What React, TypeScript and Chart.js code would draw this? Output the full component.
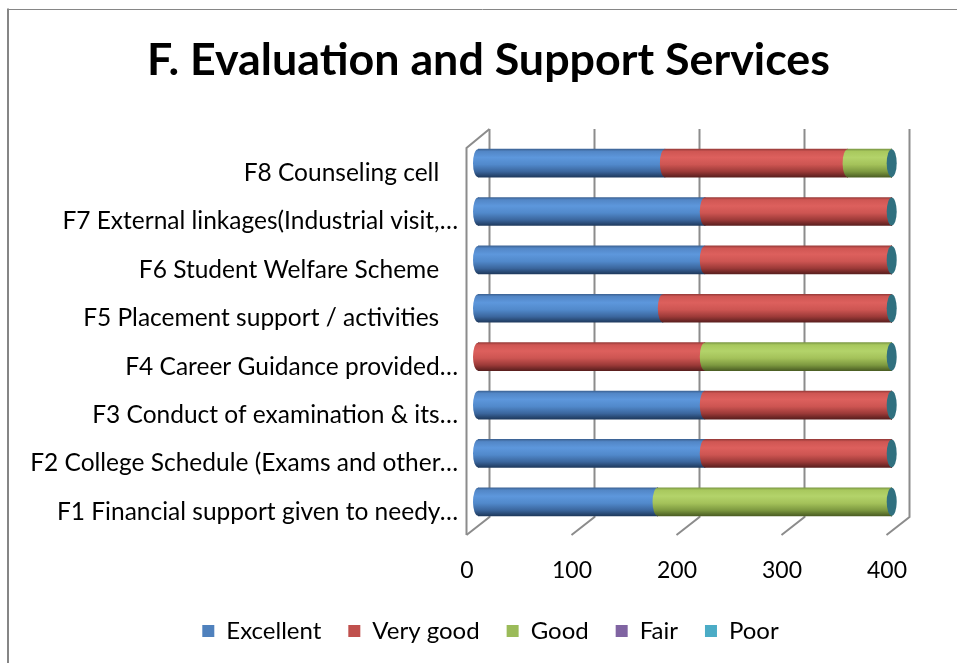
import React, { useEffect, useRef } from "react";
import { Chart, registerables } from "chart.js";

Chart.register(...registerables);

// ---- data ----
const categories = [
  "F1 Financial support given to needy…",
  "F2 College Schedule (Exams and other…",
  "F3 Conduct of examination & its…",
  "F4 Career Guidance provided…",
  "F5 Placement support / activities   ",
  "F6 Student Welfare Scheme   ",
  "F7 External linkages(Industrial visit,…",
  "F8 Counseling cell   ",
];
const seriesNames = ["Excellent", "Very good", "Good", "Fair", "Poor"];
const excellent = [171, 216, 216, 0, 176, 216, 216, 178];
const veryGood = [0, 178, 178, 216, 218, 178, 178, 174];
const good = [223, 0, 0, 178, 0, 0, 0, 42];
const fair = [0, 0, 0, 0, 0, 0, 0, 0];
const poor = [0, 0, 0, 0, 0, 0, 0, 0];
const xTicks = [0, 100, 200, 300, 400];

const solidColors = ["#4F81BD", "#C0504D", "#9BBB59", "#8064A2", "#4BACC6"];
const gradStops = [
  ["#3d6496", "#5286c6", "#5d97dc", "#5189cb", "#3b669d", "#1f3a5e"],
  ["#9a3c3a", "#cf5653", "#dd605d", "#cd5552", "#9c3a38", "#5a1f1e"],
  ["#7d9a45", "#a8c85d", "#b3d36a", "#a4c25a", "#7d9940", "#4c5f24"],
  ["#5e4a7a", "#7c62a0", "#8a6fb0", "#7a5f9d", "#5a4676", "#352847"],
  ["#3b8499", "#4aa9c3", "#56b8d2", "#48a5bf", "#357d91", "#1f4b57"],
];
const stopPos = [0, 0.08, 0.3, 0.55, 0.8, 1];
const capColor = "#30707f";
const FONT = "Lato";

function makeGradient(ctx: CanvasRenderingContext2D, yc: number, h: number, di: number) {
  const g = ctx.createLinearGradient(0, yc - h / 2, 0, yc + h / 2);
  gradStops[di].forEach((c, k) => g.addColorStop(stopPos[k], c));
  return g;
}

const DX = 11.5;
const DY = 9;

const framePlugin = {
  id: "frame3d",
  afterLayout(chart: any) {
    // centre title and legend over the whole picture like the original
    const tb = chart.titleBlock;
    if (tb) {
      tb.left += 29.5;
      tb.right += 29.5;
    }
    const lg = chart.legend;
    if (lg) {
      lg.left += 31.5;
      lg.right += 31.5;
    }
  },
  beforeDraw(chart: any) {
    const ctx = chart.ctx;
    ctx.save();
    ctx.fillStyle = "#ffffff";
    ctx.fillRect(0, 0, chart.width, chart.height);
    ctx.strokeStyle = "#868686";
    ctx.lineWidth = 2;
    ctx.beginPath();
    ctx.moveTo(8, chart.height);
    ctx.lineTo(8, 8.5);
    ctx.stroke();
    ctx.lineWidth = 1;
    ctx.beginPath();
    ctx.moveTo(8, 9.5);
    ctx.lineTo(chart.width, 9.5);
    ctx.stroke();
    ctx.restore();
  },
  beforeDatasetsDraw(chart: any) {
    const { ctx, chartArea } = chart;
    const x = chart.scales.x;
    const top = chartArea.top;
    const bot = chartArea.bottom;
    ctx.save();
    ctx.strokeStyle = "#8c8c8c";
    ctx.lineWidth = 2;
    xTicks.forEach((v) => {
      const xm = x.getPixelForValue(v);
      ctx.beginPath();
      ctx.moveTo(xm + DX, top - DY - 1);
      ctx.lineTo(xm + DX, bot - DY);
      ctx.lineTo(xm - DX, bot + DY);
      ctx.stroke();
    });
    const x0 = x.getPixelForValue(0);
    ctx.beginPath();
    ctx.moveTo(x0 + DX, top - DY - 1);
    ctx.lineTo(x0 - DX, top + DY);
    ctx.lineTo(x0 - DX, bot + DY);
    ctx.stroke();
    ctx.restore();
  },
  afterDatasetsDraw(chart: any) {
    const ctx = chart.ctx;
    const n = chart.data.labels.length;
    const dsList = chart.data.datasets;
    for (let i = 0; i < n; i++) {
      dsList.forEach((ds: any, di: number) => {
        const v = ds.data[i];
        if (!v) return;
        const el = chart.getDatasetMeta(di).data[i];
        const p = el.getProps(["y", "base", "height"], true);
        ctx.save();
        ctx.beginPath();
        ctx.ellipse(p.base, p.y, 5, p.height / 2, 0, 0, Math.PI * 2);
        ctx.fillStyle = makeGradient(ctx, p.y, p.height, di);
        ctx.fill();
        ctx.restore();
      });
      const lastEl = chart.getDatasetMeta(dsList.length - 1).data[i];
      const q = lastEl.getProps(["x", "y", "height"], true);
      ctx.save();
      ctx.beginPath();
      ctx.ellipse(q.x, q.y, 5, q.height / 2, 0, 0, Math.PI * 2);
      ctx.fillStyle = capColor;
      ctx.fill();
      ctx.restore();
    }
  },
};

export default function App() {
  const ref = useRef<HTMLCanvasElement | null>(null);
  useEffect(() => {
    if (!ref.current) return;
    const values = [excellent, veryGood, good, fair, poor];
    const chart = new Chart(ref.current, {
      type: "bar",
      data: {
        labels: categories,
        datasets: seriesNames.map((name, di) => ({
          label: name,
          data: values[di],
          barThickness: 28,
          borderWidth: 0,
          backgroundColor: (c: any) => {
            const y = c.chart.scales?.y;
            if (!y || c.dataIndex === undefined) return solidColors[di];
            const yc = y.getPixelForValue(c.dataIndex);
            return makeGradient(c.chart.ctx, yc, 28, di);
          },
        })),
      },
      options: {
        indexAxis: "y",
        responsive: false,
        animation: false,
        devicePixelRatio: 1,
        layout: { padding: { left: 20, right: 59, top: 0, bottom: 10 } },
        scales: {
          x: {
            stacked: true,
            min: 0,
            max: 400,
            ticks: {
              stepSize: 100,
              labelOffset: -11,
              padding: 31,
              color: "#000",
              font: { family: FONT, size: 23 },
            },
            grid: { display: false, drawTicks: false },
            border: { display: false },
            afterFit: (s: any) => {
              s.height = 66;
            },
          },
          y: {
            stacked: true,
            reverse: true,
            ticks: {
              labelOffset: 10,
              padding: 20,
              color: "#000",
              font: { family: FONT, size: 24.5 },
            },
            grid: { display: false, drawTicks: false },
            border: { display: false },
            afterFit: (s: any) => {
              s.width = 458;
            },
          },
        },
        plugins: {
          title: {
            display: true,
            text: "F. Evaluation and Support Services",
            color: "#000",
            font: { family: FONT, size: 44.8, weight: "bold" },
            padding: { top: 33.5, bottom: 51.7 },
          },
          legend: {
            position: "bottom",
            labels: {
              boxWidth: 12,
              boxHeight: 12,
              padding: 27,
              color: "#000",
              font: { family: FONT, size: 24 },
              generateLabels: (ch: any) =>
                ch.data.datasets.map((ds: any, i: number) => ({
                  text: ds.label,
                  fillStyle: solidColors[i],
                  strokeStyle: solidColors[i],
                  lineWidth: 0,
                  hidden: false,
                  datasetIndex: i,
                  fontColor: "#000",
                })),
            },
          },
          tooltip: { enabled: false },
        },
      },
      plugins: [framePlugin],
    } as any);
    return () => chart.destroy();
  }, []);
  return (
    <div style={{ position: "fixed", left: 0, top: 0, width: 957, height: 663, background: "#fff" }}>
      <canvas ref={ref} width={957} height={663} style={{ display: "block" }} />
    </div>
  );
}
